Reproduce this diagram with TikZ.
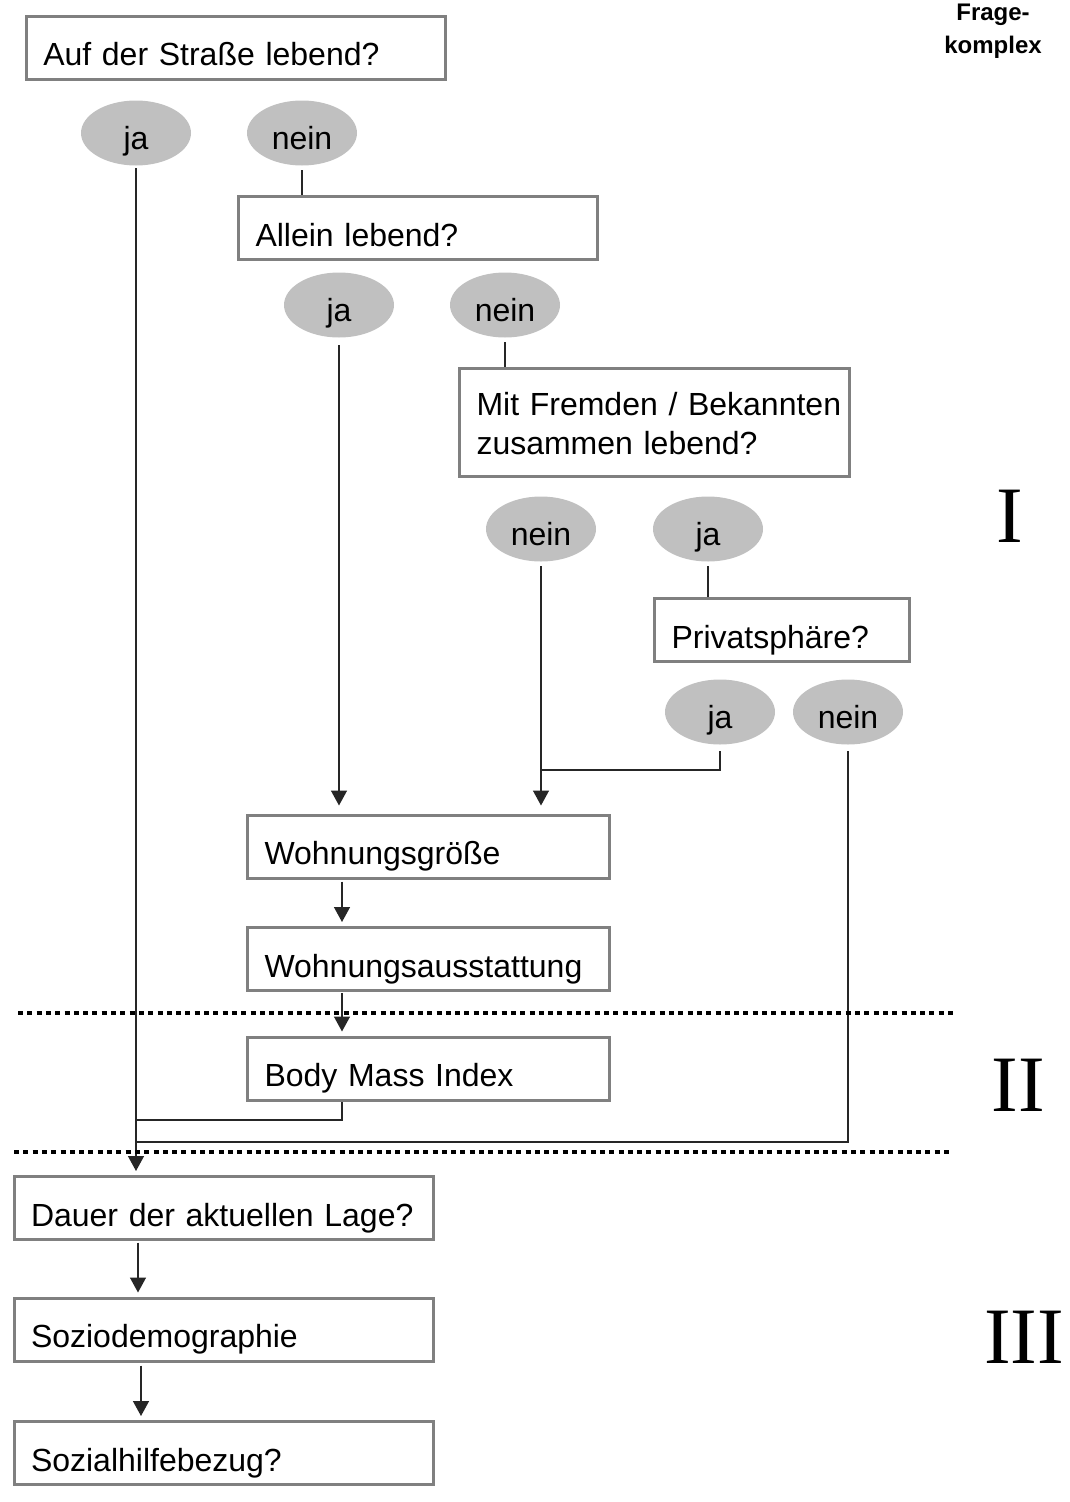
\documentclass[tikz,border=0pt]{standalone}
\usepackage{fontspec}
\setmainfont{Liberation Sans}
\newfontfamily\romfont{Liberation Serif}
\usetikzlibrary{shapes.geometric,arrows.meta}
\definecolor{boxgray}{HTML}{808080}
\definecolor{ansgray}{HTML}{C0C0C0}

\begin{document}
\begin{tikzpicture}[x=1pt, y=-1pt,
  txt/.style={font=\fontsize{32}{39}\selectfont},
  qbox/.style={txt, draw=boxgray, line width=3pt, inner xsep=17pt, inner ysep=0pt, minimum height=63pt, align=left, text height=36pt, text depth=0pt},
  ans/.style={txt, ellipse, fill=ansgray, minimum width=110pt, minimum height=65pt, inner sep=0pt, text height=32pt, text depth=0pt},
  conn/.style={draw=black!85, line width=1.5pt, shorten <=4.5pt},
  arr/.style={conn, -{Triangle[length=15pt, width=16pt]}, shorten >=4pt},
  dotline/.style={line width=4pt, dash pattern=on 5pt off 4.3pt},
  rom/.style={font=\romfont\fontsize{80}{80}\selectfont, anchor=base, inner sep=0pt}]
  \useasboundingbox (0,0) rectangle (1069,1502);

  \node (A) [qbox, text width=385pt] at (235.75,47.5) {Auf der Straße lebend?};
  \node (Aja) [ans] at (136,133) {ja};
  \node (Anein) [ans] at (302,133) {nein};
  \node (B) [qbox, text width=325pt] at (418,228) {Allein lebend?};
  \node (Bja) [ans] at (339,305) {ja};
  \node (Bnein) [ans] at (505,305) {nein};
  \node (C) [qbox, text width=356pt, minimum height=108pt, text height=24pt, text depth=39pt] at (654.5,422.5) {\mbox{Mit Fremden / Bekannten}\\zusammen lebend?};
  \node (Cnein) [ans] at (541,529) {nein};
  \node (Cja) [ans] at (708,529) {ja};
  \node (D) [qbox, text width=221pt] at (782,630) {Privatsphäre?};
  \node (Dja) [ans] at (720,712) {ja};
  \node (Dnein) [ans] at (848,712) {nein};
  \node (E) [qbox, text width=328pt] at (428.5,846.5) {Wohnungsgröße};
  \node (F) [qbox, text width=328pt] at (428.5,959) {Wohnungsausstattung};
  \node (G) [qbox, text width=328pt] at (428.5,1068.5) {Body Mass Index};
  \node (H) [qbox, text width=385pt] at (223.5,1208) {Dauer der aktuellen Lage?};
  \node (I) [qbox, text width=385pt] at (223.5,1329.5) {Soziodemographie};
  \node (J) [qbox, text width=385pt] at (223.5,1453) {Sozialhilfebezug?};

  \node (K) [font=\bfseries\fontsize{24}{33}\selectfont, align=center, anchor=base] at (993,53) {Frage-\\komplex};
  \node (R1) [rom] at (1009.5,542) {I};
  \node (R2) [rom] at (1018,1111) {II};
  \node (R3) [rom] at (1024,1363) {III};

  \coordinate (j1) at (541,770);
  \coordinate (j2) at (136,1120);
  \coordinate (j3) at (136,1142);

  \draw[arr, shorten <=2.5pt] (Aja.south) -- (Aja.south |- H.north);
  \draw[conn] (Anein.south) -- (Anein.south |- B.north);
  \draw[arr, shorten <=7.5pt, shorten >=8pt] (Bja.south) -- (Bja.south |- E.north);
  \draw[conn] (Bnein.south) -- (Bnein.south |- C.north);
  \draw[arr, shorten >=8pt] (Cnein.south) -- (Cnein.south |- E.north);
  \draw[conn] (Cja.south) -- (Cja.south |- D.north);
  \draw[conn, shorten <=6.5pt] (Dja.south) |- (j1);
  \draw[conn, shorten <=6.5pt] (Dnein.south) |- (j3);
  \draw[arr, shorten <=2pt] ([xshift=-86.5pt]E.south) -- ([xshift=-86.5pt]F.north);
  \draw[arr, shorten <=1pt] ([xshift=-86.5pt]F.south) -- ([xshift=-86.5pt]G.north);
  \draw[conn, shorten <=0.5pt] ([xshift=-86.5pt]G.south) |- (j2);
  \draw[arr, shorten <=1.5pt] ([xshift=-85.5pt]H.south) -- ([xshift=-85.5pt]I.north);
  \draw[arr, shorten <=3pt] ([xshift=-82.5pt]I.south) -- ([xshift=-82.5pt]J.north);

  \draw[dotline] (18,1013) -- (953,1013);
  \draw[dotline] (14,1152) -- (950,1152);
\end{tikzpicture}
\end{document}
